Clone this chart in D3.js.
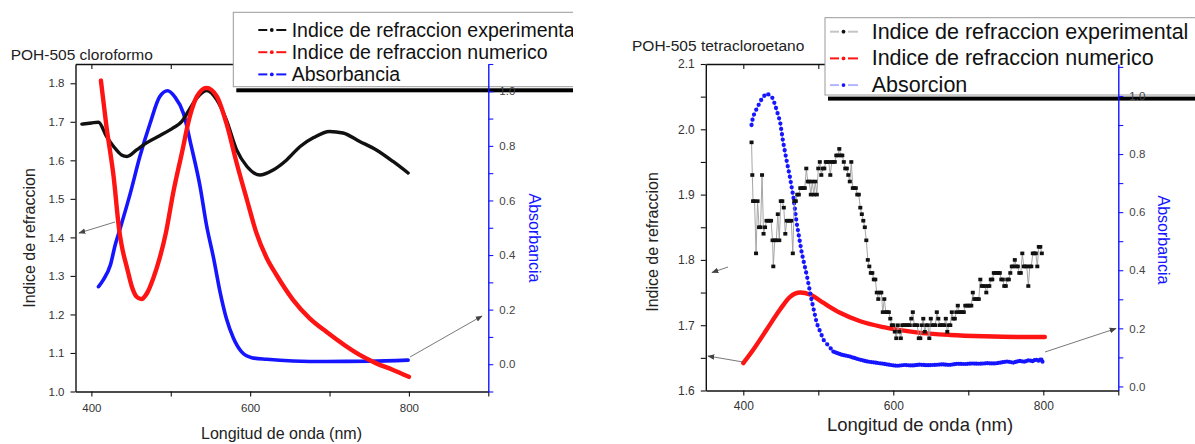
<!DOCTYPE html>
<html>
<head>
<meta charset="utf-8">
<script src="https://cdn.jsdelivr.net/npm/d3@7"></script>
<style>
  body { margin: 0; background: #fff; }
  svg { display: block; }
  text { font-family: "Liberation Sans", Arial, sans-serif; }
</style>
</head>
<body>
<svg id="chart" width="1195" height="444"></svg>
<script>
// ---------- POH-505 in chloroform ----------
const cloroExpWl = [388, 400, 409, 419, 428, 438, 445, 457, 470, 486, 503, 514, 522, 533, 545, 558, 570, 583, 596, 612, 629, 646, 663, 680, 700, 717, 738, 759, 780, 799];
const cloroExpN  = [1.694, 1.697, 1.699, 1.662, 1.636, 1.614, 1.610, 1.627, 1.646, 1.664, 1.684, 1.701, 1.727, 1.762, 1.781, 1.757, 1.705, 1.627, 1.584, 1.562, 1.575, 1.601, 1.636, 1.659, 1.675, 1.671, 1.649, 1.627, 1.597, 1.567];

const cloroNumWl = [412, 419, 428, 435, 438, 445, 451, 457, 463, 470, 478, 486, 494, 503, 514, 524, 533, 545, 558, 570, 583, 596, 608, 621, 633, 654, 675, 696, 738, 759, 780, 800];
const cloroNumN  = [1.807, 1.688, 1.558, 1.420, 1.381, 1.320, 1.272, 1.246, 1.240, 1.255, 1.294, 1.346, 1.413, 1.515, 1.619, 1.714, 1.766, 1.788, 1.766, 1.697, 1.593, 1.497, 1.411, 1.346, 1.303, 1.238, 1.190, 1.155, 1.095, 1.073, 1.056, 1.038];

const cloroAbsWl = [409, 415, 424, 430, 436, 449, 461, 474, 486, 496, 505, 516, 526, 537, 545, 554, 562, 570, 579, 589, 602, 621, 654, 696, 750, 799];
const cloroAbs   = [0.284, 0.309, 0.364, 0.437, 0.495, 0.626, 0.760, 0.883, 0.980, 1.002, 0.980, 0.919, 0.797, 0.650, 0.510, 0.388, 0.266, 0.168, 0.095, 0.046, 0.024, 0.018, 0.012, 0.010, 0.011, 0.015];

// ---------- POH-505 in tetrachloroethane ----------
const tetraExpWl = [
  411, 412, 413, 415, 417, 419, 421, 423, 425, 427,
  429, 431, 433, 435, 437, 439, 440, 442, 444, 446,
  448, 450, 452, 454, 456, 458, 460, 462, 464, 466,
  468, 470, 472, 474, 476, 478, 480, 482, 484, 486,
  488, 490, 492, 494, 496, 498, 500, 502, 504, 506,
  508, 510, 512, 514, 516, 518, 520, 522, 524, 526,
  528, 530, 532, 534, 536, 538, 540, 542, 544, 546,
  548, 550, 552, 554, 556, 558, 560, 562, 564, 566,
  568, 570, 572, 574, 576, 578, 580, 582, 584, 586,
  588, 590, 592, 594, 596, 598, 600, 602, 604, 606,
  608, 610, 612, 614, 616, 618, 620, 622, 624, 626,
  628, 630, 632, 634, 636, 638, 640, 642, 644, 646,
  648, 650, 652, 654, 656, 658, 660, 662, 664, 666,
  668, 670, 672, 674, 676, 678, 680, 682, 684, 686,
  688, 690, 692, 694, 696, 698, 700, 702, 704, 706,
  708, 710, 712, 714, 716, 718, 720, 722, 724, 726,
  728, 730, 732, 734, 736, 738, 740, 742, 744, 746,
  748, 750, 752, 754, 756, 758, 760, 762, 764, 766,
  768, 770, 772, 774, 776, 778, 780, 782, 784, 786,
  788, 790, 792, 794, 796, 798
];
const tetraExpN = [
  1.98, 1.93, 1.89, 1.89, 1.81, 1.89, 1.85, 1.85, 1.93, 1.84,
  1.85, 1.86, 1.86, 1.86, 1.86, 1.83, 1.79, 1.83, 1.83, 1.87,
  1.83, 1.89, 1.89, 1.88, 1.84, 1.86, 1.86, 1.86, 1.86, 1.81,
  1.89, 1.89, 1.90, 1.90, 1.91, 1.91, 1.91, 1.91, 1.94, 1.92,
  1.92, 1.90, 1.92, 1.90, 1.92, 1.90, 1.94, 1.95, 1.93, 1.94,
  1.94, 1.95, 1.95, 1.95, 1.93, 1.95, 1.95, 1.95, 1.96, 1.96,
  1.97, 1.96, 1.96, 1.95, 1.94, 1.94, 1.93, 1.92, 1.95, 1.91,
  1.91, 1.91, 1.90, 1.90, 1.88, 1.87, 1.86, 1.85, 1.83, 1.80,
  1.79, 1.78, 1.78, 1.77, 1.77, 1.75, 1.74, 1.75, 1.75, 1.72,
  1.74, 1.72, 1.72, 1.72, 1.71, 1.70, 1.70, 1.69, 1.68, 1.70,
  1.69, 1.68, 1.70, 1.70, 1.70, 1.70, 1.70, 1.70, 1.71, 1.72,
  1.70, 1.70, 1.70, 1.68, 1.68, 1.70, 1.71, 1.69, 1.70, 1.70,
  1.68, 1.71, 1.70, 1.70, 1.70, 1.72, 1.71, 1.70, 1.70, 1.70,
  1.70, 1.71, 1.69, 1.70, 1.70, 1.72, 1.71, 1.71, 1.72, 1.73,
  1.72, 1.72, 1.72, 1.72, 1.73, 1.73, 1.73, 1.73, 1.73, 1.75,
  1.74, 1.74, 1.74, 1.74, 1.77, 1.76, 1.76, 1.76, 1.75, 1.76,
  1.76, 1.77, 1.77, 1.78, 1.78, 1.78, 1.78, 1.78, 1.77, 1.77,
  1.76, 1.76, 1.77, 1.77, 1.78, 1.79, 1.79, 1.80, 1.79, 1.79,
  1.78, 1.78, 1.81, 1.79, 1.79, 1.79, 1.76, 1.79, 1.79, 1.81,
  1.81, 1.81, 1.79, 1.82, 1.82, 1.81
];

const tetraNumWl = [400, 413, 431, 449, 462, 476, 489, 507, 529, 556, 587, 631, 676, 720, 765, 802];
const tetraNumN  = [1.642, 1.662, 1.693, 1.724, 1.743, 1.750, 1.747, 1.734, 1.719, 1.706, 1.697, 1.689, 1.685, 1.683, 1.682, 1.682];

const tetraAbsWl = [411, 413, 418, 425, 431, 438, 442, 449, 453, 458, 462, 467, 471, 478, 485, 491, 498, 507, 520, 530, 542, 553, 565, 576, 587, 596, 605, 615, 625, 635, 645, 655, 665, 675, 685, 695, 705, 715, 725, 735, 745, 752, 760, 768, 775, 780, 786, 790, 794, 797, 800];
const tetraAbs   = [0.900, 0.929, 0.957, 0.992, 1.009, 0.998, 0.972, 0.912, 0.843, 0.774, 0.723, 0.648, 0.565, 0.459, 0.378, 0.298, 0.217, 0.160, 0.120, 0.110, 0.103, 0.094, 0.086, 0.082, 0.078, 0.074, 0.071, 0.074, 0.072, 0.075, 0.073, 0.074, 0.076, 0.074, 0.078, 0.077, 0.079, 0.078, 0.080, 0.079, 0.083, 0.086, 0.082, 0.088, 0.085, 0.090, 0.087, 0.093, 0.088, 0.095, 0.080];

// ---------- ticks and labels ----------
const wlTicks        = [400, 500, 600, 700, 800, 900];
const wlTickLabels   = [400, 600, 800];
const cloroNTicks    = [1.0, 1.1, 1.2, 1.3, 1.4, 1.5, 1.6, 1.7, 1.8];
const cloroAbsTicks  = [-0.1, 0.0, 0.1, 0.2, 0.3, 0.4, 0.5, 0.6, 0.7, 0.8, 0.9, 1.0, 1.1];
const tetraNTicks    = [1.6, 1.65, 1.7, 1.75, 1.8, 1.85, 1.9, 1.95, 2.0, 2.05, 2.1];
const tetraAbsTicks  = [0.0, 0.1, 0.2, 0.3, 0.4, 0.5, 0.6, 0.7, 0.8, 0.9, 1.0, 1.1];

const cloroLegend = ["Indice de refraccion experimenta", "Indice de refraccion numerico", "Absorbancia"];
const tetraLegend = ["Indice de refraccion experimental", "Indice de refraccion numerico", "Absorcion"];

const RED = "#ff1414", BLUE = "#1515ff", BLACK = "#111";
const svg = d3.select("#chart");

const defs = svg.append("defs");
defs.append("clipPath").attr("id", "clipLeft")
  .append("rect").attr("x", 0).attr("y", 0).attr("width", 573).attr("height", 444);
defs.append("marker").attr("id", "arrow").attr("viewBox", "0 0 10 10")
  .attr("refX", 9).attr("refY", 5).attr("markerWidth", 7).attr("markerHeight", 7)
  .attr("markerUnits", "userSpaceOnUse").attr("orient", "auto")
  .append("path").attr("d", "M0,1 L10,5 L0,9 Z").attr("fill", "#444");

const zip = (a, b) => a.map((v, i) => [v, b[i]]);
const tenthLabel = d => (Math.abs(d * 10 - Math.round(d * 10)) < 1e-6 ? d.toFixed(1) : "");
const evenTenthLabel = d => (Math.round(d * 10) % 2 === 0 ? d.toFixed(1) : "");

function styleAxis(g, color, fontSize, textColor) {
  g.attr("font-family", null).attr("font-size", null);
  g.select(".domain").attr("stroke", color).attr("stroke-width", 1.4);
  g.selectAll(".tick line").attr("stroke", color).attr("stroke-width", 1.1);
  g.selectAll(".tick text").attr("fill", textColor).style("font-size", fontSize + "px");
}

function frame(root, x, yL, o) {
  const x0 = x.range()[0];
  const [yb, yt] = yL.range();
  // top edge with inward ticks
  root.append("g").attr("transform", `translate(0,${yt})`)
    .call(d3.axisTop(x).tickValues(wlTicks).tickFormat("").tickSize(-5).tickSizeOuter(0))
    .call(g => styleAxis(g, BLACK, 11, "#333"));
  // bottom wavelength axis
  root.append("g").attr("transform", `translate(0,${yb})`)
    .call(d3.axisBottom(x).tickValues(wlTicks)
      .tickFormat(d => (wlTickLabels.includes(d) ? d : "")).tickSize(5).tickSizeOuter(0).tickPadding(o.xPad))
    .call(g => styleAxis(g, BLACK, o.tickFont, "#333"));
  // left refractive index axis
  root.append("g").attr("transform", `translate(${x0},0)`)
    .call(d3.axisLeft(yL).tickValues(o.nTicks).tickFormat(tenthLabel).tickSize(5).tickSizeOuter(0).tickPadding(6))
    .call(g => styleAxis(g, BLACK, o.tickFont, "#333"));
}

function rightAxis(root, x, yR, ticks) {
  const x1 = x.range()[1];
  root.append("g").attr("transform", `translate(${x1},0)`)
    .call(d3.axisRight(yR).tickValues(ticks).tickFormat(evenTenthLabel).tickSize(5).tickSizeOuter(0).tickPadding(6))
    .call(g => styleAxis(g, BLUE, 11.5, "#444"));
}

function arrow(root, a, b) {
  root.append("line").attr("x1", a[0]).attr("y1", a[1]).attr("x2", b[0]).attr("y2", b[1])
    .attr("stroke", "#555").attr("stroke-width", 0.8).attr("marker-end", "url(#arrow)");
}

function legend(root, o) {
  root.append("rect").attr("x", o.x).attr("y", o.y).attr("width", 420).attr("height", o.h)
    .attr("fill", "#fff").attr("stroke", "#9a9a9a").attr("stroke-width", 1);
  root.append("rect").attr("x", o.x + 3).attr("y", o.y + o.h + 1.6).attr("width", 420).attr("height", 4)
    .attr("fill", "#000");
  o.rows.forEach((r, i) => {
    const cy = o.y + o.first + i * o.step;
    const sx = o.x + o.symX;
    root.append("line").attr("x1", sx).attr("x2", sx + 9).attr("y1", cy).attr("y2", cy)
      .attr("stroke", r.line).attr("stroke-width", 2);
    root.append("line").attr("x1", sx + 18).attr("x2", sx + 28).attr("y1", cy).attr("y2", cy)
      .attr("stroke", r.line).attr("stroke-width", 2);
    root.append("circle").attr("cx", sx + 13.5).attr("cy", cy).attr("r", 1.9).attr("fill", r.dot);
    root.append("text").attr("x", o.x + o.textX).attr("y", cy + o.base)
      .attr("fill", "#111").style("font-size", o.font + "px").text(r.label);
  });
}

// ======================= left panel: chloroform =======================
const left = svg.append("g").attr("clip-path", "url(#clipLeft)");
const xA  = d3.scaleLinear().domain([380, 900]).range([75.5, 488.3]);
const nA  = d3.scaleLinear().domain([1.0, 1.85]).range([391.5, 64]);
const aA  = d3.scaleLinear().domain([-0.1, 1.1]).range([391.5, 64]);

frame(left, xA, nA, { nTicks: cloroNTicks, tickFont: 11.5, xPad: 7 });

const lineA = d3.line().curve(d3.curveMonotoneX);
left.append("path").attr("d", lineA(zip(cloroAbsWl, cloroAbs).map(d => [xA(d[0]), aA(d[1])])))
  .attr("fill", "none").attr("stroke", BLUE).attr("stroke-width", 3.6).attr("stroke-linecap", "round");
left.append("path").attr("d", lineA(zip(cloroExpWl, cloroExpN).map(d => [xA(d[0]), nA(d[1])])))
  .attr("fill", "none").attr("stroke", BLACK).attr("stroke-width", 3.4).attr("stroke-linecap", "round");
left.append("path").attr("d", lineA(zip(cloroNumWl, cloroNumN).map(d => [xA(d[0]), nA(d[1])])))
  .attr("fill", "none").attr("stroke", RED).attr("stroke-width", 4.4).attr("stroke-linecap", "round");

arrow(left, [115, 222], [79, 233]);
arrow(left, [410, 357], [482, 316]);

legend(left, {
  x: 233.3, y: 12.3, h: 74.4, first: 17.7, step: 22.2, symX: 25, textX: 58.4, base: 6.5, font: 19.5,
  rows: [
    { label: cloroLegend[0], line: BLACK, dot: BLACK },
    { label: cloroLegend[1], line: RED, dot: RED },
    { label: cloroLegend[2], line: BLUE, dot: BLUE }
  ]
});
rightAxis(left, xA, aA, cloroAbsTicks);

left.append("text").attr("x", 10.7).attr("y", 59.5).style("font-size", "15.5px").attr("fill", "#222")
  .text("POH-505 cloroformo");
left.append("text").attr("transform", "translate(34.5,238) rotate(-90)").attr("text-anchor", "middle")
  .style("font-size", "16px").attr("fill", "#222").text("Indice de refraccion");
left.append("text").attr("transform", "translate(528.5,238) rotate(90)").attr("text-anchor", "middle")
  .style("font-size", "16px").attr("fill", BLUE).text("Absorbancia");
left.append("text").attr("x", 281.5).attr("y", 438.5).attr("text-anchor", "middle")
  .style("font-size", "16px").attr("fill", "#222").text("Longitud de onda (nm)");

// ==================== right panel: tetrachloroethane ====================
const right = svg.append("g");
const xB = d3.scaleLinear().domain([350, 900]).range([705.8, 1118.3]);
const nB = d3.scaleLinear().domain([1.6, 2.1]).range([390.5, 64]);
const aB = d3.scaleLinear().domain([-0.014, 1.11]).range([390.5, 64]);

frame(right, xB, nB, { nTicks: tetraNTicks, tickFont: 12, xPad: 5.5 });

// numeric index: smooth red line
right.append("path").attr("d", lineA(zip(tetraNumWl, tetraNumN).map(d => [xB(d[0]), nB(d[1])])))
  .attr("fill", "none").attr("stroke", RED).attr("stroke-width", 4.4).attr("stroke-linecap", "round");

// absorption: pale connecting line with blue dot markers (sparse on the band, dense on the tail)
const absPts = zip(tetraAbsWl, tetraAbs).map(d => [xB(d[0]), aB(d[1])]);
const lineLin = d3.line();
const splitAt = tetraAbsWl.indexOf(520);
right.append("path").attr("d", lineLin(absPts))
  .attr("fill", "none").attr("stroke", "#a8a8ff").attr("stroke-width", 1.2);
right.append("path").attr("d", lineLin(absPts.slice(0, splitAt + 1)))
  .attr("fill", "none").attr("stroke", BLUE).attr("stroke-width", 4.3)
  .attr("stroke-linecap", "round").attr("stroke-dasharray", "0,5.4");
right.append("path").attr("d", lineLin(absPts.slice(splitAt)))
  .attr("fill", "none").attr("stroke", BLUE).attr("stroke-width", 4.2)
  .attr("stroke-linecap", "round").attr("stroke-dasharray", "0,2.2");

// experimental index: grey connecting line with black markers
const expPts = zip(tetraExpWl, tetraExpN).map(d => [xB(d[0]), nB(d[1])]);
right.append("path").attr("d", lineLin(expPts))
  .attr("fill", "none").attr("stroke", "#9c9c9c").attr("stroke-width", 0.9);
right.selectAll("rect.exp").data(expPts).join("rect").attr("class", "exp")
  .attr("x", d => d[0] - 2).attr("y", d => d[1] - 1.8).attr("width", 4).attr("height", 3.6)
  .attr("fill", BLACK);

arrow(right, [743, 362], [708, 356]);
arrow(right, [1045, 352], [1116, 328.5]);
arrow(right, [728, 267], [712, 272.5]);

legend(right, {
  x: 825, y: 17.7, h: 77.3, first: 14, step: 26.7, symX: 5, textX: 46.7, base: 7, font: 21.5,
  rows: [
    { label: tetraLegend[0], line: "#c4c4c4", dot: BLACK },
    { label: tetraLegend[1], line: RED, dot: RED },
    { label: tetraLegend[2], line: "#b4b4ff", dot: BLUE }
  ]
});
rightAxis(right, xB, aB, tetraAbsTicks);

right.append("text").attr("x", 632).attr("y", 50.5).style("font-size", "15.5px").attr("fill", "#222")
  .text("POH-505 tetracloroetano");
right.append("text").attr("transform", "translate(657.5,242) rotate(-90)").attr("text-anchor", "middle")
  .style("font-size", "16px").attr("fill", "#222").text("Indice de refraccion");
right.append("text").attr("transform", "translate(1158,240) rotate(90)").attr("text-anchor", "middle")
  .style("font-size", "16px").attr("fill", BLUE).text("Absorbancia");
right.append("text").attr("x", 920).attr("y", 431).attr("text-anchor", "middle")
  .style("font-size", "18.5px").attr("fill", "#222").text("Longitud de onda (nm)");
</script>
</body>
</html>
